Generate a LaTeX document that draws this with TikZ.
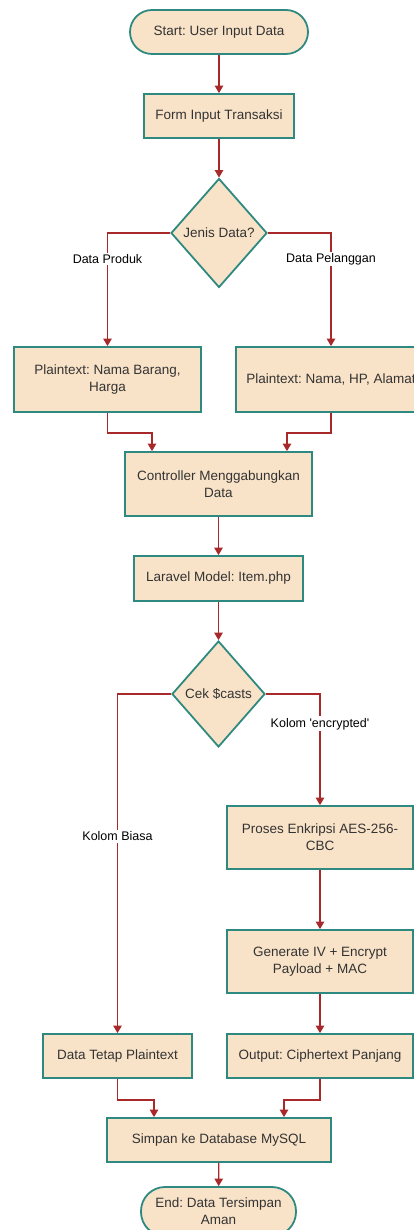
\documentclass[tikz,border=0pt]{standalone}
\usepackage{fontspec}
\setmainfont{Liberation Sans}
\usetikzlibrary{shapes.geometric,arrows.meta}
\definecolor{boxfill}{HTML}{F9E3C8}
\definecolor{boxline}{HTML}{2E8A80}
\definecolor{arrowc}{HTML}{A8292A}
\definecolor{txt}{HTML}{333333}
\frenchspacing
\tikzset{
  base/.style={draw=boxline, fill=boxfill, line width=1.8pt, text=txt, font=\fontsize{13.5}{17}\selectfont, align=center, inner sep=0pt},
  procbox/.style={base, rectangle},
  pill/.style={base, rectangle, rounded corners=22pt},
  decide/.style={base, diamond},
  flow/.style={draw=arrowc, line width=1.2pt, -{Triangle[width=8.5pt,length=7.5pt]}},
  lbl/.style={fill=white, text=black, font=\fontsize{12.5}{15}\selectfont, inner sep=1.5pt}
}
\begin{document}
\begin{tikzpicture}[x=1pt,y=-1pt]
\useasboundingbox (0,0) rectangle (414,1230);
\node[pill, minimum width=178pt, minimum height=44pt] (start) at (219,32) {Start: User Input Data};
\node[procbox, minimum width=150pt, minimum height=44pt] (form) at (219,116) {Form Input Transaksi};
\node[decide, minimum width=96pt, minimum height=109pt] (d1) at (219,233) {Jenis Data?};
\node[procbox, minimum width=187pt, minimum height=65pt] (p1) at (107.5,379.5) {Plaintext: Nama Barang,\\Harga};
\node[procbox, minimum width=190pt, minimum height=65pt] (p2) at (331,379.5) {Plaintext: Nama, HP, Alamat};
\node[procbox, minimum width=187pt, minimum height=64pt] (ctrl) at (218.5,484) {Controller Menggabungkan\\Data};
\node[procbox, minimum width=169pt, minimum height=45pt] (model) at (218.5,578.5) {Laravel Model: Item.php};
\node[decide, minimum width=93pt, minimum height=106pt] (d2) at (218.5,694) {Cek \$casts};
\node[procbox, minimum width=186pt, minimum height=63pt] (enc) at (320,837.5) {Proses Enkripsi AES-256-\\CBC};
\node[procbox, minimum width=186pt, minimum height=63pt] (gen) at (320,961.5) {Generate IV + Encrypt\\Payload + MAC};
\node[procbox, minimum width=186pt, minimum height=44pt] (out) at (320,1056) {Output: Ciphertext Panjang};
\node[procbox, minimum width=149pt, minimum height=44pt] (plain) at (117.5,1056) {Data Tetap Plaintext};
\node[procbox, minimum width=224pt, minimum height=44pt] (save) at (219,1140) {Simpan ke Database MySQL};
\node[pill, minimum width=155pt, minimum height=49pt, rounded corners=24pt] (end) at (218.5,1211.5) {End: Data Tersimpan\\Aman};

\draw[flow] (start) -- (form);
\draw[flow] (form) -- (d1);
\draw[flow] (d1.west) -| node[lbl, pos=0.615] {Data Produk} (p1.north);
\draw[flow] (d1.east) -| node[lbl, pos=0.615] {Data Pelanggan} (p2.north);
\draw[flow] (p1.south) -- ++(0,20) -| ([xshift=-66.5pt]ctrl.north);
\draw[flow] (p2.south) -- ++(0,20) -| ([xshift=68.5pt]ctrl.north);
\draw[flow] (ctrl) -- (model);
\draw[flow] (model) -- (d2);
\draw[flow] (d2.west) -| node[lbl, pos=0.71] {Kolom Biasa} (plain.north);
\draw[flow] (d2.east) -| node[lbl, pos=0.634] {Kolom \textquotesingle encrypted\textquotesingle} (enc.north);
\draw[flow] (enc) -- (gen);
\draw[flow] (gen) -- (out);
\draw[flow] (plain.south) -- ++(0,21) -| ([xshift=-65pt]save.north);
\draw[flow] (out.south) -- ++(0,21) -| ([xshift=65pt]save.north);
\draw[flow] (save) -- (end);
\end{tikzpicture}
\end{document}
